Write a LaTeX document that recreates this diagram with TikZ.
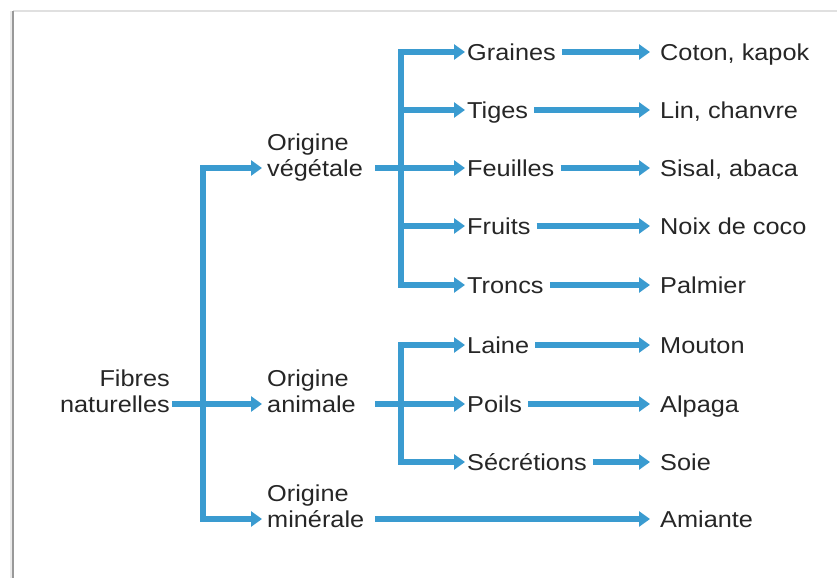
\documentclass[tikz,border=0pt]{standalone}
\usepackage{fontspec}
\setmainfont[FakeStretch=1.1]{Liberation Sans}
\usetikzlibrary{arrows.meta}
\definecolor{fblue}{HTML}{3A9BD0}
\definecolor{ftext}{HTML}{262626}
\tikzset{
  lbl/.style={font=\fontsize{23}{26}\selectfont, text=ftext, inner ysep=0pt, text height=16.5pt, text depth=0pt},
  lvl/.style={lbl, anchor=west, inner xsep=2pt},
  org/.style={lbl, anchor=west, align=left, inner xsep=5pt},
  leaf/.style={lbl, anchor=west, inner xsep=10pt},
  conn/.style={draw=fblue, line width=6pt, line join=miter, -{Triangle[length=11pt,width=15pt]}},
}
\begin{document}
\begin{tikzpicture}[x=1pt,y=-1pt]
\useasboundingbox (0,0) rectangle (837,578);
% frame
\draw[black!12, line width=1.5pt] (13,11) -- (837,11);
\draw[black!8, line width=4pt] (11.5,11) -- (11.5,578);
\draw[black!40, line width=1.2pt] (13,11) -- (13,578);

% nodes
\node[lbl, anchor=east, align=right, inner xsep=2pt] (fib) at (172,404) {Fibres\\naturelles};
\node[org] (veg) at (262,168) {Origine\\végétale};
\node[org] (ani) at (262,404) {Origine\\animale};
\node[org] (min) at (262,519) {Origine\\minérale};

\node[lvl] (gra) at (465,52) {Graines};
\node[lvl] (tig) at (465,110) {Tiges};
\node[lvl] (feu) at (465,168) {Feuilles};
\node[lvl] (fru) at (465,226) {Fruits};
\node[lvl] (tro) at (465,285) {Troncs};
\node[lvl] (lai) at (465,345) {Laine};
\node[lvl] (poi) at (465,404) {Poils};
\node[lvl] (sec) at (465,462) {Sécrétions};

\node[leaf] (cot) at (650,52) {Coton, kapok};
\node[leaf] (lin) at (650,110) {Lin, chanvre};
\node[leaf] (sis) at (650,168) {Sisal, abaca};
\node[leaf] (noi) at (650,226) {Noix de coco};
\node[leaf] (pal) at (650,285) {Palmier};
\node[leaf] (mou) at (650,345) {Mouton};
\node[leaf] (alp) at (650,404) {Alpaga};
\node[leaf] (soi) at (650,462) {Soie};
\node[leaf] (ami) at (650,519) {Amiante};

% helper coordinates
\coordinate (b1) at (203,0);
\coordinate (b2) at (401,0);
\coordinate (sx) at (375,0);

% level 1
\draw[conn] (min.west -| b1) |- (veg.west);
\draw[conn] (veg.west -| b1) |- (min.west);
\draw[conn] (fib.east) -- (ani.west);

% vegetal
\draw[conn] (tro.west -| b2) |- (gra.west);
\draw[conn] (gra.west -| b2) |- (tro.west);
\draw[conn] (tig.west -| b2) -- (tig.west);
\draw[conn] (fru.west -| b2) -- (fru.west);
\draw[conn] (veg.east -| sx) -- (feu.west);

% animal
\draw[conn] (sec.west -| b2) |- (lai.west);
\draw[conn] (lai.west -| b2) |- (sec.west);
\draw[conn] (ani.east -| sx) -- (poi.west);

% mineral
\draw[conn] (min.east -| sx) -- (ami.west);

% level 2 -> leaves
\foreach \a/\b in {gra/cot, tig/lin, feu/sis, fru/noi, tro/pal, lai/mou, poi/alp, sec/soi}
  \draw[conn, shorten <=4pt] (\a.east) -- (\b.west);
\end{tikzpicture}
\end{document}
